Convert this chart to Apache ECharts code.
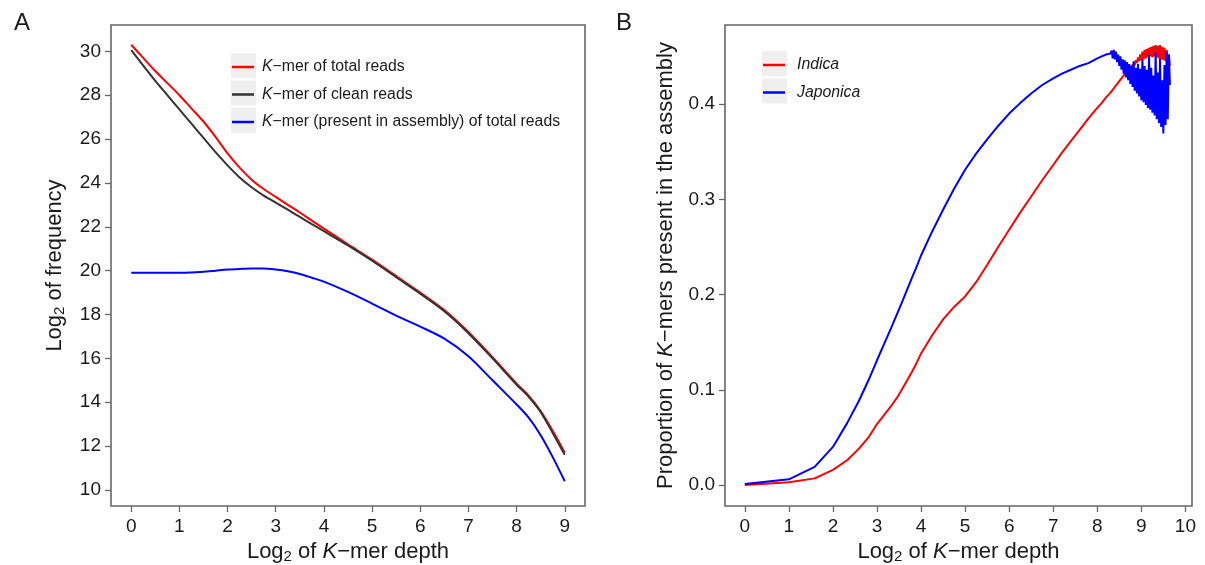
<!DOCTYPE html>
<html><head><meta charset="utf-8">
<script src="https://cdn.jsdelivr.net/npm/echarts@6/dist/echarts.min.js"></script>
<style>html,body{margin:0;padding:0;background:#fff}#c{width:1205px;height:565px}</style>
</head><body><div id="c"></div>
<script>
// ---------- Panel A data ----------
const xA = [0,0.25,0.5,0.75,1,1.25,1.5,1.75,2,2.25,2.5,2.75,3,3.25,3.5,3.75,4,4.5,5,5.5,6,6.5,7,7.5,8,8.25,8.5,8.75,9];
const totalReads   = [30.3,29.7,29.1,28.55,28.0,27.4,26.8,26.1,25.35,24.7,24.15,23.72,23.36,23.0,22.65,22.28,21.92,21.2,20.5,19.75,19.0,18.2,17.2,16.05,14.85,14.3,13.6,12.7,11.7];
const cleanReads   = [30.05,29.35,28.65,28.0,27.35,26.7,26.05,25.4,24.8,24.25,23.8,23.42,23.1,22.78,22.45,22.12,21.8,21.15,20.45,19.7,18.95,18.15,17.15,16.0,14.8,14.25,13.55,12.6,11.6];
const presentReads = [19.9,19.9,19.9,19.9,19.9,19.92,19.95,20.0,20.05,20.08,20.1,20.1,20.05,19.97,19.85,19.68,19.5,19.03,18.5,17.95,17.45,16.9,16.1,15.0,13.9,13.3,12.5,11.5,10.4];
const xTicksA = [0,1,2,3,4,5,6,7,8,9];
const yTicksA = [10,12,14,16,18,20,22,24,26,28,30];
const legendA = ['K−mer of total reads','K−mer of clean reads','K−mer (present in assembly) of total reads'];

// ---------- Panel B data ----------
const xB = [0,1,1.585,2,2.322,2.585,2.807,3,3.17,3.322,3.459,3.585,3.7,3.807,3.907,4,4.25,4.5,4.75,5,5.25,5.5,5.75,6,6.25,6.5,6.75,7,7.2,7.4,7.6,7.8,8,8.1,8.2,8.3,
  8.325,8.35,8.375,8.4,8.425,8.45,8.475,8.5,8.525,8.55,8.575,8.6,8.625,8.65,8.675,8.7,8.725,8.75,8.775,8.8,8.825,8.85,8.875,8.9,8.925,8.95,8.975,9.0,
  9.025,9.05,9.075,9.1,9.125,9.15,9.175,9.2,9.225,9.25,9.275,9.3,9.325,9.35,9.375,9.4,9.425,9.45,9.475,9.5,9.525,9.55,9.575,9.6,9.625,9.65];
const indica = [0.000,0.003,0.007,0.016,0.026,0.038,0.050,0.064,0.074,0.083,0.092,0.102,0.111,0.120,0.129,0.138,0.157,0.174,0.187,0.198,0.213,0.231,0.250,0.268,0.286,0.303,0.320,0.336,0.349,0.361,0.373,0.385,0.396,0.401,0.407,0.412,
  0.413,0.415,0.416,0.418,0.419,0.421,0.422,0.424,0.425,0.427,0.428,0.430,0.431,0.433,0.434,0.436,0.437,0.439,0.440,0.441,0.443,0.441,0.446,0.443,0.449,0.445,0.452,0.446,
  0.455,0.447,0.457,0.448,0.458,0.449,0.459,0.450,0.460,0.449,0.461,0.450,0.462,0.449,0.461,0.448,0.462,0.447,0.460,0.446,0.459,0.445,0.457,0.444,0.452,0.440];
const japonica = [0.001,0.006,0.019,0.040,0.065,0.088,0.110,0.131,0.149,0.165,0.180,0.194,0.207,0.219,0.230,0.241,0.266,0.289,0.311,0.331,0.348,0.363,0.377,0.390,0.401,0.411,0.420,0.427,0.432,0.436,0.440,0.443,0.448,0.450,0.452,0.453,
  0.456,0.448,0.457,0.447,0.455,0.444,0.452,0.440,0.450,0.436,0.447,0.432,0.446,0.428,0.444,0.425,0.442,0.421,0.440,0.418,0.445,0.414,0.438,0.411,0.442,0.408,0.437,0.404,
  0.447,0.402,0.440,0.399,0.436,0.396,0.452,0.394,0.438,0.391,0.430,0.388,0.454,0.384,0.433,0.380,0.448,0.376,0.425,0.369,0.441,0.378,0.455,0.384,0.452,0.420];
const xTicksB = [0,1,2,3,4,5,6,7,8,9,10];
const yTicksB = [0,0.1,0.2,0.3,0.4];
const legendB = ['Indica','Japonica'];

// ---------- chart ----------
const FONT = '"Liberation Sans", Arial, Helvetica, sans-serif';
const TXT = '#1a1a1a';
const AX = '#666666';
const pairs = (xs, ys) => xs.map((x, i) => [x, ys[i]]);

const richName = {
  n: {fontSize: 22, fontFamily: FONT, color: TXT},
  i: {fontSize: 22, fontFamily: FONT, color: TXT, fontStyle: 'italic'},
  s: {fontSize: 15, fontFamily: FONT, color: TXT, padding: [10, 0, 0, 0]}
};
const xName = '{n|Log}{s|2}{n| of }{i|K}{n|−mer depth}';

function valueAxis(gridIndex, min, max, ticks, fmt, margin, extra) {
  return Object.assign({
    type: 'value', gridIndex, min, max,
    axisLine: {show: false, onZero: false},
    splitLine: {show: false},
    axisTick: {show: true, inside: false, length: 6, customValues: ticks, lineStyle: {color: AX, width: 1.3}},
    axisLabel: {customValues: ticks, color: TXT, fontSize: 19, fontFamily: FONT, margin: margin, formatter: fmt},
    nameLocation: 'middle',
    nameTextStyle: {rich: richName, color: TXT}
  }, extra);
}

const keyBox = (x, yc) => ({type: 'rect', z: 1, shape: {x: x, y: yc - 12.5, width: 25, height: 25}, style: {fill: '#efefef'}});

const chart = echarts.init(document.getElementById('c'), null, {renderer: 'canvas'});
chart.setOption({
  backgroundColor: '#fff',
  animation: false,
  textStyle: {fontFamily: FONT},
  title: [
    {text: 'A', left: 9, top: 6, textStyle: {fontSize: 24, fontWeight: 'normal', color: TXT, fontFamily: FONT}},
    {text: 'B', left: 611, top: 6, textStyle: {fontSize: 24, fontWeight: 'normal', color: TXT, fontFamily: FONT}}
  ],
  grid: [
    {left: 111, right: 620, top: 25, bottom: 59, show: true, borderColor: AX, borderWidth: 1.6, backgroundColor: 'transparent', containLabel: false, outerBoundsMode: 'none'},
    {left: 725, right: 13, top: 25, bottom: 59, show: true, borderColor: AX, borderWidth: 1.6, backgroundColor: 'transparent', containLabel: false, outerBoundsMode: 'none'}
  ],
  xAxis: [
    valueAxis(0, -0.42, 9.42, xTicksA, v => String(v), 11, {position: 'bottom', name: xName, nameGap: 27}),
    valueAxis(1, -0.45, 10.15, xTicksB, v => String(v), 11, {position: 'bottom', name: xName, nameGap: 27})
  ],
  yAxis: [
    valueAxis(0, 9.27, 31.2, yTicksA, v => String(v), 10, {position: 'left', name: '{n|Log}{s|2}{n| of frequency}', nameGap: 44}),
    valueAxis(1, -0.022, 0.483, yTicksB, v => v.toFixed(1), 10, {position: 'left', name: '{n|Proportion of }{i|K}{n|−mers present in the assembly}', nameGap: 48})
  ],
  legend: [
    {
      data: legendA, orient: 'vertical', left: 227, top: 52, itemWidth: 22, itemHeight: 2.5, itemGap: 7.5, icon: 'rect', symbolKeepAspect: false, z: 6,
      textStyle: {fontSize: 15.8, color: TXT, lineHeight: 20, padding: [0, 0, 0, 3],
        rich: {i: {fontStyle: 'italic', fontSize: 15.8, color: TXT, fontFamily: FONT}, n: {fontSize: 15.8, color: TXT, fontFamily: FONT}}},
      formatter: name => '{i|K}{n|' + name.slice(1) + '}', selectedMode: false
    },
    {
      data: legendB, orient: 'vertical', left: 758, top: 50, itemWidth: 22, itemHeight: 2.5, itemGap: 7.5, icon: 'rect', symbolKeepAspect: false, z: 6,
      textStyle: {fontSize: 15.8, color: TXT, lineHeight: 20, padding: [0, 0, 0, 7], fontStyle: 'italic'},
      selectedMode: false
    }
  ],
  graphic: [keyBox(231, 65.5), keyBox(231, 93), keyBox(231, 120.5), keyBox(762, 63.5), keyBox(762, 91)],
  series: [
    {name: legendA[0], type: 'line', xAxisIndex: 0, yAxisIndex: 0, data: pairs(xA, totalReads), smooth: 0.3, showSymbol: false, color: '#ff0000', lineStyle: {width: 2, color: '#ff0000'}},
    {name: legendA[1], type: 'line', xAxisIndex: 0, yAxisIndex: 0, data: pairs(xA, cleanReads), smooth: 0.3, showSymbol: false, color: '#333333', lineStyle: {width: 2, color: '#333333'}},
    {name: legendA[2], type: 'line', xAxisIndex: 0, yAxisIndex: 0, data: pairs(xA, presentReads), smooth: 0.3, showSymbol: false, color: '#0000ff', lineStyle: {width: 2, color: '#0000ff'}},
    {name: legendB[0], type: 'line', xAxisIndex: 1, yAxisIndex: 1, data: pairs(xB, indica), showSymbol: false, color: '#ff0000', lineStyle: {width: 2, color: '#ff0000'}},
    {name: legendB[1], type: 'line', xAxisIndex: 1, yAxisIndex: 1, data: pairs(xB, japonica), showSymbol: false, color: '#0000ff', lineStyle: {width: 2, color: '#0000ff'}}
  ]
});
</script>
</body></html>
